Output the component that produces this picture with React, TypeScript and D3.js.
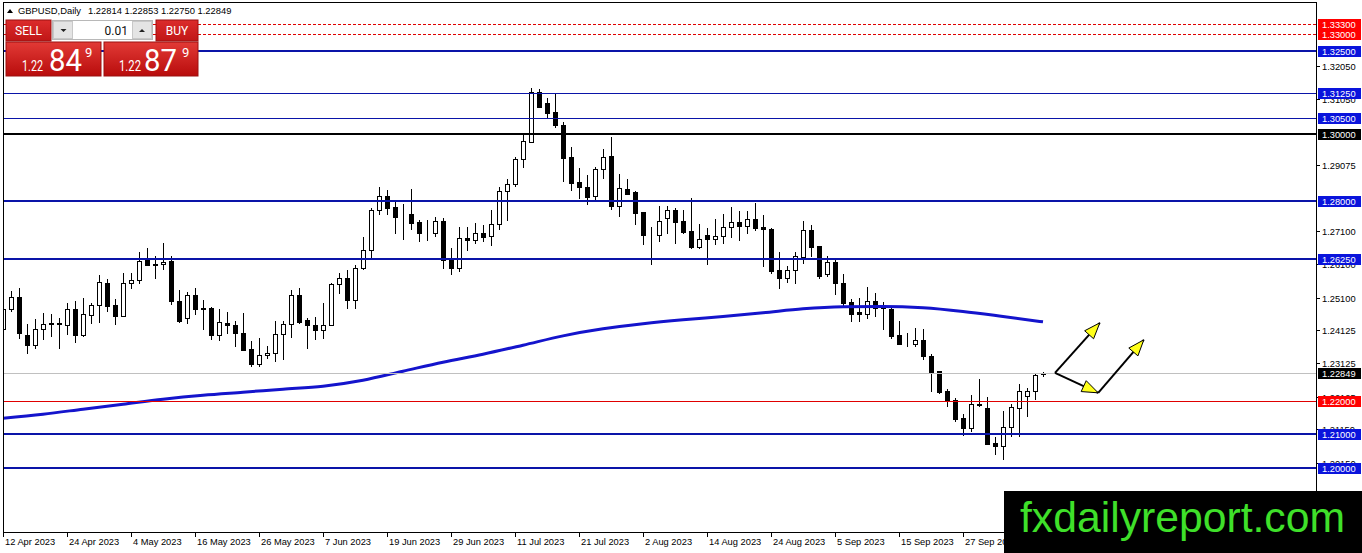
import React from "react";
import * as d3 from "d3";

const W = 1362;
const H = 553;

// ---- candle data (GBPUSD Daily, 12 Apr 2023 .. 11 Oct 2023) ----
const opens = [
  1.2416, 1.2476, 1.2512, 1.2398, 1.2367, 1.2416, 1.2434, 1.2431, 1.2428, 1.2476,
  1.2398, 1.2458, 1.2488, 1.2554, 1.2488, 1.2455, 1.2554, 1.2563, 1.2626, 1.2611,
  1.2611, 1.2620, 1.2500, 1.2449, 1.2518, 1.2479, 1.2479, 1.2398, 1.2434, 1.2428,
  1.2404, 1.2355, 1.2310, 1.2337, 1.2343, 1.2401, 1.2431, 1.2518, 1.2443, 1.2428,
  1.2413, 1.2428, 1.2551, 1.2569, 1.2503, 1.2599, 1.2654, 1.2774, 1.2816, 1.2783,
  1.2756, 1.2762, 1.2738, 1.2705, 1.2705, 1.2741, 1.2626, 1.2599, 1.2690, 1.2684,
  1.2705, 1.2696, 1.2732, 1.2831, 1.2852, 1.2925, 1.2976, 1.3127, 1.3093, 1.3066,
  1.3027, 1.2931, 1.2858, 1.2843, 1.2816, 1.2895, 1.2934, 1.2786, 1.2837, 1.2828,
  1.2768, 1.2699, 1.2699, 1.2750, 1.2774, 1.2741, 1.2711, 1.2663, 1.2699, 1.2687,
  1.2696, 1.2723, 1.2738, 1.2726, 1.2747, 1.2723, 1.2717, 1.2593, 1.2569, 1.2593,
  1.2633, 1.2714, 1.2666, 1.2581, 1.2617, 1.2554, 1.2497, 1.2467, 1.2461, 1.2500,
  1.2485, 1.2476, 1.2398, 1.2373, 1.2370, 1.2383, 1.2334, 1.2289, 1.2229, 1.2202,
  1.2148, 1.2120, 1.2190, 1.2178, 1.2075, 1.2066, 1.2123, 1.2178, 1.2214, 1.2229,
  1.22814,
];
const highs = [
  1.2485, 1.2530, 1.2539, 1.2431, 1.2446, 1.2464, 1.2461, 1.2449, 1.2494, 1.2500,
  1.2509, 1.2494, 1.2578, 1.2566, 1.2506, 1.2584, 1.2584, 1.2648, 1.2660, 1.2636,
  1.2675, 1.2636, 1.2533, 1.2527, 1.2539, 1.2503, 1.2482, 1.2476, 1.2467, 1.2440,
  1.2464, 1.2380, 1.2389, 1.2364, 1.2440, 1.2440, 1.2533, 1.2539, 1.2449, 1.2452,
  1.2494, 1.2554, 1.2584, 1.2593, 1.2608, 1.2693, 1.2780, 1.2843, 1.2834, 1.2801,
  1.2792, 1.2837, 1.2744, 1.2744, 1.2753, 1.2750, 1.2660, 1.2723, 1.2723, 1.2735,
  1.2729, 1.2774, 1.2843, 1.2867, 1.2931, 1.2997, 1.3139, 1.3136, 1.3108, 1.3123,
  1.3036, 1.2961, 1.2898, 1.2879, 1.2901, 1.2955, 1.2991, 1.2882, 1.2867, 1.2831,
  1.2768, 1.2723, 1.2786, 1.2786, 1.2780, 1.2774, 1.2810, 1.2732, 1.2720, 1.2747,
  1.2762, 1.2783, 1.2771, 1.2771, 1.2795, 1.2759, 1.2720, 1.2648, 1.2605, 1.2648,
  1.2741, 1.2729, 1.2666, 1.2636, 1.2626, 1.2581, 1.2506, 1.2509, 1.2542, 1.2524,
  1.2497, 1.2485, 1.2440, 1.2404, 1.2419, 1.2416, 1.2340, 1.2289, 1.2235, 1.2208,
  1.2160, 1.2217, 1.2265, 1.2211, 1.2093, 1.2169, 1.2190, 1.2250, 1.2238, 1.2283,
  1.22853,
];
const lows = [
  1.2389, 1.2470, 1.2389, 1.2343, 1.2358, 1.2386, 1.2395, 1.2358, 1.2401, 1.2377,
  1.2395, 1.2434, 1.2437, 1.2470, 1.2431, 1.2455, 1.2539, 1.2554, 1.2608, 1.2569,
  1.2596, 1.2491, 1.2437, 1.2434, 1.2461, 1.2416, 1.2386, 1.2383, 1.2404, 1.2364,
  1.2352, 1.2304, 1.2304, 1.2328, 1.2319, 1.2325, 1.2392, 1.2434, 1.2358, 1.2386,
  1.2389, 1.2428, 1.2524, 1.2479, 1.2479, 1.2596, 1.2626, 1.2762, 1.2762, 1.2705,
  1.2687, 1.2717, 1.2681, 1.2684, 1.2696, 1.2599, 1.2581, 1.2590, 1.2654, 1.2675,
  1.2681, 1.2669, 1.2717, 1.2744, 1.2846, 1.2901, 1.2976, 1.3081, 1.3048, 1.3021,
  1.2861, 1.2834, 1.2810, 1.2792, 1.2804, 1.2870, 1.2777, 1.2756, 1.2822, 1.2732,
  1.2672, 1.2611, 1.2681, 1.2705, 1.2675, 1.2705, 1.2660, 1.2660, 1.2611, 1.2672,
  1.2675, 1.2693, 1.2684, 1.2705, 1.2714, 1.2605, 1.2584, 1.2539, 1.2557, 1.2554,
  1.2614, 1.2636, 1.2569, 1.2575, 1.2521, 1.2485, 1.2440, 1.2440, 1.2449, 1.2455,
  1.2416, 1.2389, 1.2370, 1.2364, 1.2364, 1.2325, 1.2229, 1.2223, 1.2184, 1.2139,
  1.2099, 1.2111, 1.2184, 1.2072, 1.2042, 1.2027, 1.2096, 1.2096, 1.2154, 1.2205,
  1.22750,
];
const closes = [
  1.2476, 1.2512, 1.2404, 1.2367, 1.2416, 1.2431, 1.2431, 1.2434, 1.2476, 1.2398,
  1.2461, 1.2488, 1.2557, 1.2485, 1.2455, 1.2554, 1.2563, 1.2620, 1.2608, 1.2608,
  1.2617, 1.2500, 1.2440, 1.2518, 1.2476, 1.2476, 1.2398, 1.2437, 1.2428, 1.2404,
  1.2352, 1.2310, 1.2337, 1.2343, 1.2401, 1.2431, 1.2518, 1.2437, 1.2428, 1.2413,
  1.2428, 1.2551, 1.2569, 1.2503, 1.2599, 1.2654, 1.2774, 1.2816, 1.2780, 1.2753,
  1.2756, 1.2735, 1.2705, 1.2705, 1.2741, 1.2623, 1.2599, 1.2690, 1.2684, 1.2705,
  1.2693, 1.2732, 1.2831, 1.2852, 1.2925, 1.2979, 1.3127, 1.3081, 1.3063, 1.3027,
  1.2928, 1.2855, 1.2843, 1.2813, 1.2895, 1.2931, 1.2786, 1.2840, 1.2822, 1.2765,
  1.2699, 1.2699, 1.2741, 1.2774, 1.2738, 1.2708, 1.2663, 1.2687, 1.2687, 1.2696,
  1.2723, 1.2738, 1.2726, 1.2747, 1.2720, 1.2717, 1.2590, 1.2569, 1.2593, 1.2636,
  1.2714, 1.2663, 1.2575, 1.2617, 1.2554, 1.2494, 1.2461, 1.2461, 1.2500, 1.2479,
  1.2479, 1.2395, 1.2370, 1.2373, 1.2383, 1.2334, 1.2286, 1.2226, 1.2202, 1.2145,
  1.2120, 1.2190, 1.2187, 1.2072, 1.2066, 1.2123, 1.2181, 1.2229, 1.2229, 1.2277,
  1.22849,
];

// moving average readings (bar index -> value)
const maIndex = [0, 5, 10, 15, 20, 25, 30, 35, 40, 45, 50, 55, 60, 65, 70, 75, 80, 85, 90, 95, 100, 105, 110, 115, 120, 125, 130];
const maValues = [
  1.2148, 1.2160, 1.2175, 1.2190, 1.2205, 1.2217, 1.2226, 1.2235, 1.2244, 1.2262,
  1.2289, 1.2316, 1.2340, 1.2367, 1.2395, 1.2416, 1.2431, 1.2443, 1.2453, 1.2464,
  1.2476, 1.2482, 1.2483, 1.2479, 1.2468, 1.2453, 1.2437,
];

const dateTickIndex = [0, 8, 16, 24, 32, 40, 48, 56, 64, 72, 80, 88, 96, 104, 112, 120];
const dateTickLabels = [
  "12 Apr 2023", "24 Apr 2023", "4 May 2023", "16 May 2023", "26 May 2023", "7 Jun 2023",
  "19 Jun 2023", "29 Jun 2023", "11 Jul 2023", "21 Jul 2023", "2 Aug 2023", "14 Aug 2023",
  "24 Aug 2023", "5 Sep 2023", "15 Sep 2023", "27 Sep 2023",
];

const priceTicks = [1.3205, 1.3105, 1.29075, 1.271, 1.261, 1.251, 1.24125, 1.23125, 1.22125, 1.2115, 1.2015];

const levelPrices = [1.333, 1.33, 1.325, 1.3125, 1.305, 1.3, 1.28, 1.2625, 1.22, 1.21, 1.2];
const levelKinds = ["redDash", "redDash", "blueThick", "blueThin", "blueThin", "black", "blueThick", "blueThick", "red", "blueThick", "blueThick"];

const currentPrice = 1.22849;
const headerValues = ["1.22814", "1.22853", "1.22750", "1.22849"];

// arrows: [fromIndex, fromPrice, toIndex, toPrice]
const arrowSegments = [
  [131.5, 1.2284, 137.1, 1.2434],
  [131.5, 1.2284, 136.9, 1.2224],
  [136.9, 1.2224, 142.6, 1.2383],
];

const styles: Record<string, { stroke: string; width: number; dash?: string; bg: string }> = {
  redDash: { stroke: "#e00000", width: 1, dash: "3,2", bg: "#ff0000" },
  red: { stroke: "#e00000", width: 1, bg: "#ff0000" },
  blueThick: { stroke: "#0a14a8", width: 2, bg: "#0a14dc" },
  blueThin: { stroke: "#0a14a8", width: 1, bg: "#0a14dc" },
  black: { stroke: "#000000", width: 2, bg: "#000000" },
};

const FONT = "'Liberation Sans', Arial, sans-serif";
const LEFT = 3;
const RIGHT = 1316;
const TOP = 2;
const BOTTOM = 532;

function arrowHead(x1: number, y1: number, x2: number, y2: number, len = 16, hw = 6) {
  const dx = x2 - x1;
  const dy = y2 - y1;
  const L = Math.hypot(dx, dy);
  const ux = dx / L;
  const uy = dy / L;
  const bx = x2 - ux * len;
  const by = y2 - uy * len;
  const px = -uy;
  const py = ux;
  return `${x2},${y2} ${bx + px * hw},${by + py * hw} ${bx - px * hw},${by - py * hw}`;
}

export default function App() {
  const x = d3.scaleLinear().domain([0, 130]).range([3, 1043]);
  const y = d3.scaleLinear().domain([1.2, 1.3]).range([467.5, 134.2]);

  const maPath =
    d3
      .line<number>()
      .x((_, k) => x(maIndex[k]))
      .y((d) => y(d))
      .curve(d3.curveMonotoneX)(maValues) || "";

  const lineY = (p: number, w: number) => (w % 2 === 1 ? Math.round(y(p)) + 0.5 : Math.round(y(p)));

  return (
    <svg
      width={W}
      height={H}
      viewBox={`0 0 ${W} ${H}`}
      style={{ position: "fixed", left: 0, top: 0, background: "#fff" }}
      fontFamily={FONT}
    >
      <defs>
        <clipPath id="plot">
          <rect x={LEFT} y={TOP} width={RIGHT - LEFT} height={BOTTOM - TOP} />
        </clipPath>
        <linearGradient id="redBig" x1="0" y1="0" x2="0" y2="1">
          <stop offset="0" stopColor="#e23a36" />
          <stop offset="1" stopColor="#b80c0c" />
        </linearGradient>
        <linearGradient id="redSmall" x1="0" y1="0" x2="0" y2="1">
          <stop offset="0" stopColor="#dc2c2c" />
          <stop offset="1" stopColor="#c01616" />
        </linearGradient>
      </defs>
      <rect x={0} y={0} width={W} height={H} fill="#fff" />

      <g clipPath="url(#plot)" shapeRendering="crispEdges">
        {/* candles */}
        {opens.map((o, i) => {
          const c = closes[i];
          const cx = Math.round(x(i));
          const yo = Math.round(y(o));
          const yc = Math.round(y(c));
          const top = Math.min(yo, yc);
          const bot = Math.max(yo, yc);
          const bull = c >= o;
          return (
            <g key={i}>
              <line
                x1={cx + 0.5}
                x2={cx + 0.5}
                y1={Math.round(y(highs[i]))}
                y2={Math.round(y(lows[i])) + 1}
                stroke="#000"
                strokeWidth={1}
              />
              <rect
                x={cx - 1.5}
                y={top + 0.5}
                width={4}
                height={Math.max(bot - top, 0)}
                fill={bull ? "#fff" : "#000"}
                stroke="#000"
                strokeWidth={1}
              />
            </g>
          );
        })}

        {/* moving average */}
        <path d={maPath} fill="none" stroke="#1414cc" strokeWidth={3} shapeRendering="auto" />

        {/* horizontal levels */}
        {levelPrices.map((p, k) => {
          const s = styles[levelKinds[k]];
          const yy = lineY(p, s.width);
          return (
            <line
              key={k}
              x1={LEFT}
              x2={RIGHT}
              y1={yy}
              y2={yy}
              stroke={s.stroke}
              strokeWidth={s.width}
              strokeDasharray={s.dash}
            />
          );
        })}
        <line
          x1={LEFT}
          x2={RIGHT}
          y1={lineY(currentPrice, 1)}
          y2={lineY(currentPrice, 1)}
          stroke="#c0c0c0"
          strokeWidth={1}
        />

        {/* arrows */}
        <g shapeRendering="auto">
          {arrowSegments.map((a, k) => {
            const x1 = x(a[0]);
            const y1 = y(a[1]);
            const x2 = x(a[2]);
            const y2 = y(a[3]);
            return (
              <g key={k}>
                <line x1={x1} y1={y1} x2={x2} y2={y2} stroke="#000" strokeWidth={2} />
                <polygon points={arrowHead(x1, y1, x2, y2)} fill="#ffff1a" stroke="#000" strokeWidth={1} />
              </g>
            );
          })}
        </g>
      </g>

      {/* frame */}
      <g shapeRendering="crispEdges">
        <line x1={LEFT + 0.5} x2={LEFT + 0.5} y1={TOP} y2={BOTTOM + 1} stroke="#000" />
        <line x1={LEFT} x2={RIGHT + 1} y1={TOP + 0.5} y2={TOP + 0.5} stroke="#000" />
        <line x1={RIGHT + 0.5} x2={RIGHT + 0.5} y1={TOP} y2={BOTTOM + 1} stroke="#000" />
        <line x1={LEFT} x2={RIGHT + 1} y1={BOTTOM + 0.5} y2={BOTTOM + 0.5} stroke="#000" />
      </g>

      {/* price axis ticks */}
      {priceTicks.map((p, k) => {
        const yy = Math.round(y(p));
        return (
          <g key={k}>
            <line x1={RIGHT} x2={RIGHT + 4} y1={yy + 0.5} y2={yy + 0.5} stroke="#000" shapeRendering="crispEdges" />
            <text x={RIGHT + 6} y={yy + 3.5} fontSize={9.3} fill="#000">
              {p.toFixed(5)}
            </text>
          </g>
        );
      })}

      {/* level labels */}
      {levelPrices.map((p, k) => {
        const s = styles[levelKinds[k]];
        const yy = Math.round(y(p));
        return (
          <g key={k}>
            <rect x={RIGHT + 2} y={yy - 5} width={43} height={11} fill={s.bg} shapeRendering="crispEdges" />
            <text x={RIGHT + 6} y={yy + 3.5} fontSize={9.3} fill="#fff">
              {p.toFixed(5)}
            </text>
          </g>
        );
      })}
      <g>
        <rect x={RIGHT + 2} y={Math.round(y(currentPrice)) - 5} width={43} height={11} fill="#000" shapeRendering="crispEdges" />
        <text x={RIGHT + 6} y={Math.round(y(currentPrice)) + 3.5} fontSize={9.3} fill="#fff">
          {currentPrice.toFixed(5)}
        </text>
      </g>

      {/* time axis */}
      {dateTickIndex.map((i, k) => {
        const xx = Math.round(x(i));
        return (
          <g key={k}>
            <line x1={xx + 0.5} x2={xx + 0.5} y1={BOTTOM} y2={BOTTOM + 5} stroke="#000" shapeRendering="crispEdges" />
            <text x={xx + 2} y={545} fontSize={9.3} fill="#000">
              {dateTickLabels[k]}
            </text>
          </g>
        );
      })}

      {/* header */}
      <polygon points="7,13 13,13 10,9" fill="#000" />
      <text x={18} y={14} fontSize={9.4} fill="#000">GBPUSD,Daily</text>
      <text x={88} y={14} fontSize={9.4} fill="#000">{headerValues.join(" ")}</text>

      {/* one-click trading panel */}
      <g fontFamily="Roboto, 'Liberation Sans', sans-serif">
        <rect x={6} y={20} width={45} height={21} fill="url(#redSmall)" stroke="#9c1010" strokeWidth={1} />
        <text x={28.5} y={35} fontSize={12} fill="#fff" textAnchor="middle">SELL</text>
        <rect x={156} y={20} width={42} height={21} fill="url(#redSmall)" stroke="#9c1010" strokeWidth={1} />
        <text x={177} y={35} fontSize={12} fill="#fff" textAnchor="middle">BUY</text>

        <rect x={52.5} y={20.5} width={100} height={19} fill="#fff" stroke="#b8b8b8" shapeRendering="crispEdges" />
        <rect x={53.5} y={21.5} width={19} height={17} fill="#e4e4e4" stroke="#c8c8c8" shapeRendering="crispEdges" />
        <rect x={132.5} y={21.5} width={19} height={17} fill="#e4e4e4" stroke="#c8c8c8" shapeRendering="crispEdges" />
        <polygon points="60.5,29 66.5,29 63.5,32" fill="#222" />
        <polygon points="139,32 145,32 142,29" fill="#222" />
        <text x={128} y={35} fontSize={12} fill="#111" textAnchor="end">0.01</text>

        <rect x={6} y={42} width={95} height={34} fill="url(#redBig)" stroke="#9c1010" strokeWidth={1} />
        <rect x={104} y={42} width={94} height={34} fill="url(#redBig)" stroke="#9c1010" strokeWidth={1} />
        <text x={22} y={71} fontSize={14} fill="#fff" textLength={21} lengthAdjust="spacingAndGlyphs">1.22</text>
        <text x={49} y={71} fontSize={32} fill="#fff" textLength={33} lengthAdjust="spacingAndGlyphs">84</text>
        <text x={85} y={57} fontSize={13} fill="#fff">9</text>
        <text x={119} y={71} fontSize={14} fill="#fff" textLength={22} lengthAdjust="spacingAndGlyphs">1.22</text>
        <text x={144} y={71} fontSize={32} fill="#fff" textLength={33} lengthAdjust="spacingAndGlyphs">87</text>
        <text x={182} y={57} fontSize={13} fill="#fff">9</text>
      </g>

      {/* watermark */}
      <rect x={1004} y={491} width={W - 1004} height={H - 491} fill="#000" />
      <text x={1020} y={532} fontSize={42} fill="#3fe02a" fontFamily={FONT} textLength={325} lengthAdjust="spacingAndGlyphs">
        fxdailyreport.com
      </text>
    </svg>
  );
}
